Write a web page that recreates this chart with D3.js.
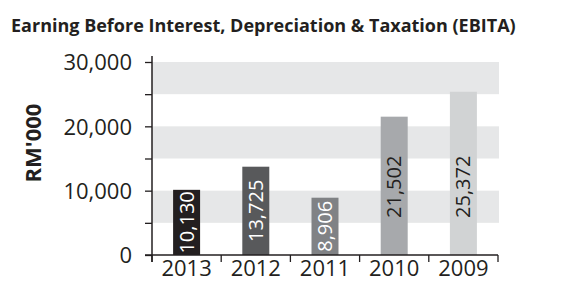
<!DOCTYPE html>
<html>
<head>
<meta charset="utf-8">
<script src="https://cdn.jsdelivr.net/npm/d3@7"></script>
<style>
  body { margin: 0; background: #fff; }
  text { font-family: "Open Sans", sans-serif; fill: #231f20; }
</style>
</head>
<body>
<svg id="chart" width="561" height="281"></svg>
<script>
const years = ['2013', '2012', '2011', '2010', '2009'];
const ebita = [10130, 13725, 8906, 21502, 25372];
const barColors = ['#231f20', '#58595b', '#808285', '#a7a9ac', '#d1d3d4'];
const labelColors = ['#fff', '#fff', '#fff', '#231f20', '#231f20'];
const yTicks = [0, 10000, 20000, 30000];
const bands = [[5000, 10000], [15000, 20000], [25000, 30000]];

const svg = d3.select('#chart');
const plotLeft = 152, plotRight = 498, plotTop = 62, plotBottom = 255;

const x = d3.scaleBand().domain(years).range([plotLeft, plotRight]).paddingInner(0.61).paddingOuter(0.305);
const y = d3.scaleLinear().domain([0, 30000]).range([plotBottom, plotTop]);

svg.append('text')
  .attr('x', 11).attr('y', 32)
  .attr('font-size', 18).attr('font-weight', 700)
  .text('Earning Before Interest, Depreciation & Taxation (EBITA)');

// grey bands
svg.selectAll('rect.band').data(bands).join('rect')
  .attr('class', 'band')
  .attr('x', plotLeft).attr('width', plotRight + 1 - plotLeft)
  .attr('y', d => y(d[1])).attr('height', d => y(d[0]) - y(d[1]))
  .attr('fill', '#e6e7e8');

// bars
svg.selectAll('rect.bar').data(ebita).join('rect')
  .attr('class', 'bar')
  .attr('x', (d, i) => x(years[i])).attr('width', x.bandwidth())
  .attr('y', d => y(d)).attr('height', d => plotBottom - y(d))
  .attr('fill', (d, i) => barColors[i]);

svg.selectAll('text.val').data(ebita).join('text')
  .attr('class', 'val')
  .attr('transform', (d, i) => {
    const cy = Math.max((y(d) + plotBottom) / 2, y(10600));
    return `translate(${x(years[i]) + x.bandwidth() / 2 + 7},${cy}) rotate(-90)`;
  })
  .attr('text-anchor', 'middle')
  .attr('font-size', 20).attr('font-weight', 400)
  .style('fill', (d, i) => labelColors[i])
  .text(d => d3.format(',')(d));

// y axis
const yAxis = d3.axisLeft(y).tickValues(d3.range(0, 30001, 5000)).tickSize(7)
  .tickFormat(d => yTicks.includes(d) ? d3.format(',')(d) : '');
const gy = svg.append('g').attr('transform', `translate(${plotLeft},0)`).call(yAxis);
gy.select('.domain').remove();
gy.selectAll('line').attr('stroke', '#231f20').attr('stroke-width', 1.3);
gy.selectAll('text').attr('font-size', 22).attr('font-weight', 400)
  .attr('x', -20).attr('dy', '0.35em').style('fill', '#231f20');

svg.append('line')
  .attr('x1', plotLeft).attr('x2', plotLeft).attr('y1', plotTop - 6).attr('y2', plotBottom + 7)
  .attr('stroke', '#231f20').attr('stroke-width', 1.5);

// x axis
svg.append('line')
  .attr('x1', plotLeft - 7).attr('x2', plotRight).attr('y1', plotBottom).attr('y2', plotBottom)
  .attr('stroke', '#231f20').attr('stroke-width', 1.5);
const bounds = years.map(d => x(d) - x.step() * x.paddingInner() / 2).concat([plotRight]);
svg.selectAll('line.xt').data(bounds).join('line')
  .attr('class', 'xt')
  .attr('x1', d => d).attr('x2', d => d).attr('y1', plotBottom).attr('y2', plotBottom + 7)
  .attr('stroke', '#231f20').attr('stroke-width', 1.3);
svg.selectAll('text.xl').data(years).join('text')
  .attr('class', 'xl')
  .attr('x', d => x(d) + x.bandwidth() / 2).attr('y', 276)
  .attr('text-anchor', 'middle')
  .attr('font-size', 22).attr('font-weight', 400)
  .text(d => d);

svg.append('text')
  .attr('transform', `translate(41,143) rotate(-90)`)
  .attr('text-anchor', 'middle')
  .attr('font-size', 22).attr('font-weight', 700)
  .text("RM'000");
</script>
</body>
</html>
